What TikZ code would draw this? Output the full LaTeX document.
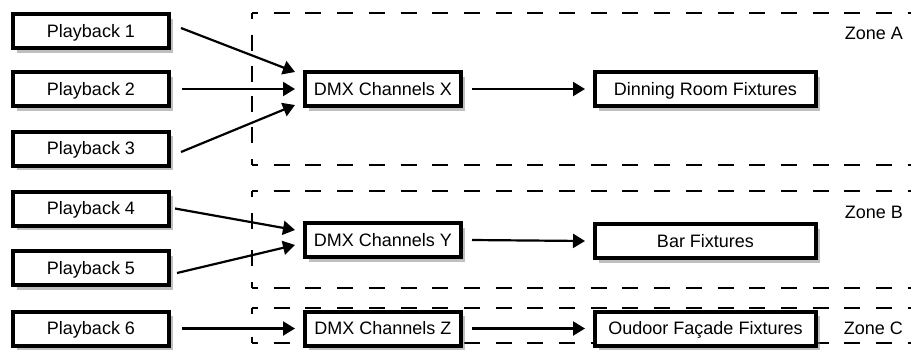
\documentclass[tikz,border=0pt]{standalone}
\usepackage{fontspec}
\setmainfont{Liberation Sans}
\usetikzlibrary{arrows.meta,shadows}
\begin{document}
\begin{tikzpicture}[x=1pt,y=-1pt,
  box/.style={draw=black, fill=white, line width=4pt, inner sep=0pt,
    minimum height=34pt, text height=12.9pt, text depth=0pt,
    font=\fontsize{18}{20}\selectfont,
    general shadow={fill=black!50, opacity=0.5, shadow xshift=3.5pt, shadow yshift=-4.5pt}},
  srcbox/.style={box, minimum width=156pt},
  dmxbox/.style={box, minimum width=156pt},
  fixbox/.style={box, minimum width=221pt},
  arr/.style={line width=2.2pt, -{Triangle[length=12pt,width=14pt]}},
  zoneline/.style={line width=2pt, dash pattern=on 16pt off 15.7pt, dash phase=10pt},
  zonelabel/.style={anchor=east, font=\fontsize{18}{20}\selectfont, inner sep=0pt, text height=12.9pt, text depth=0pt}
]
\useasboundingbox (0,0) rectangle (911,349);

% zones
\foreach \t/\b in {13/165, 191/288, 308/343}{
  \draw[zoneline] (252,\t) -- (940,\t);
  \draw[zoneline] (252,\t) -- (252,{(\t+\b)/2});
  \draw[zoneline] (252,\b) -- (252,{(\t+\b)/2});
  \draw[zoneline] (252,\b) -- (940,\b);
}
\node[zonelabel] (za) at (903,33) {Zone A};
\node[zonelabel] (zb) at (903,212) {Zone B};
\node[zonelabel] (zc) at (903,328) {Zone C};

% sources
\node[srcbox] (p1) at (91,31) {Playback 1};
\node[srcbox] (p2) at (91,89) {Playback 2};
\node[srcbox] (p3) at (91,148.5) {Playback 3};
\node[srcbox] (p4) at (91,208.5) {Playback 4};
\node[srcbox] (p5) at (91,268) {Playback 5};
\node[srcbox] (p6) at (91,328.5) {Playback 6};

% DMX
\node[dmxbox] (dx) at (383,89) {DMX Channels X};
\node[dmxbox] (dy) at (383,240) {DMX Channels Y};
\node[dmxbox] (dz) at (383,328.5) {DMX Channels Z};

% fixtures
\node[fixbox] (fa) at (705.5,89) {Dinning Room Fixtures};
\node[fixbox] (fb) at (705.5,241) {Bar Fixtures};
\node[fixbox] (fc) at (705.5,328.5) {Oudoor Façade Fixtures};

% arrows
\draw[arr] ([xshift=10pt,yshift=3pt]p1.east) -- ([xshift=-8pt,yshift=17pt]dx.west);
\draw[arr] ([xshift=11pt]p2.east) -- ([xshift=-8pt]dx.west);
\draw[arr] ([xshift=10pt,yshift=-3.5pt]p3.east) -- ([xshift=-8pt,yshift=-16pt]dx.west);
\draw[arr] ([xshift=4pt]p4.east) -- ([xshift=-8pt,yshift=10pt]dy.west);
\draw[arr] ([xshift=6pt,yshift=-5pt]p5.east) -- ([xshift=-8pt,yshift=-5pt]dy.west);
\draw[arr] ([xshift=11pt]p6.east) -- ([xshift=-8pt]dz.west);
\draw[arr] ([xshift=9pt]dx.east) -- ([xshift=-8pt]fa.west);
\draw[arr] ([xshift=9pt]dy.east) -- ([xshift=-8pt]fb.west);
\draw[arr] ([xshift=9pt]dz.east) -- ([xshift=-8pt]fc.west);
\end{tikzpicture}
\end{document}
